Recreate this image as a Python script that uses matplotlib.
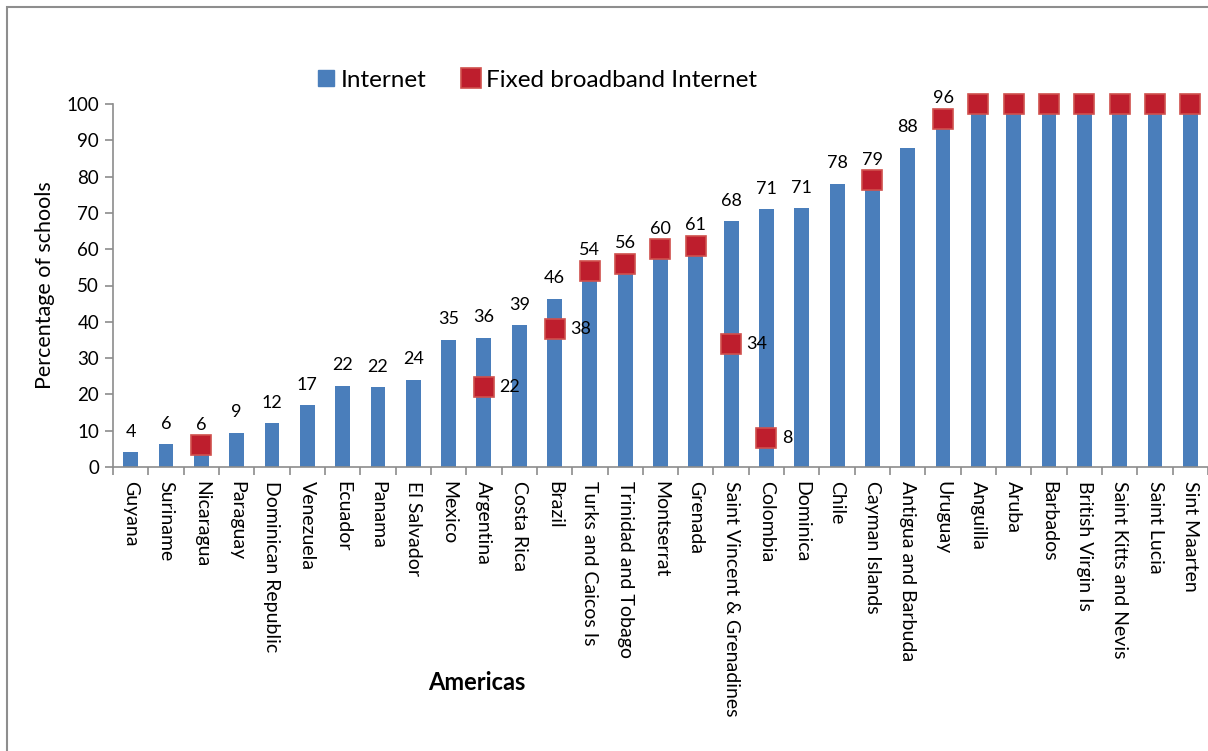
import matplotlib
matplotlib.use("Agg")
from matplotlib import pyplot as plt
from matplotlib.lines import Line2D
from matplotlib.patches import Rectangle
import numpy as np

plt.rcParams['font.family'] = ['Lato', 'DejaVu Sans']

# share of schools with internet / fixed broadband, by country
countries = ['Guyana', 'Suriname', 'Nicaragua', 'Paraguay', 'Dominican Republic',
             'Venezuela', 'Ecuador', 'Panama', 'El Salvador', 'Mexico', 'Argentina',
             'Costa Rica', 'Brazil', 'Turks and Caicos Is', 'Trinidad and Tobago',
             'Montserrat', 'Grenada', 'Saint Vincent & Grenadines', 'Colombia',
             'Dominica', 'Chile', 'Cayman Islands', 'Antigua and Barbuda', 'Uruguay',
             'Anguilla', 'Aruba', 'Barbados', 'British Virgin Is', 'Saint Kitts and Nevis',
             'Saint Lucia', 'Sint Maarten']
internet = [4, 6.3, 6, 9.4, 12, 17, 22.4, 22, 24, 35, 35.6, 39, 46.3, 54, 56, 60, 61,
            67.7, 71, 71.3, 78, 79, 88, 96, 100, 100, 100, 100, 100, 100, 100]
nan = np.nan
broadband = [nan, nan, 6, nan, nan, nan, nan, nan, nan, nan, 22, nan, 38, 54, 56, 60, 61,
             34, 8, nan, nan, 79, nan, 96, 100, 100, 100, 100, 100, 100, 100]
# broadband values that get their own label beside the marker
side_labels = {'Argentina', 'Brazil', 'Saint Vincent & Grenadines', 'Colombia'}

blue = '#4A7EBB'
red = '#BE1E2D'
red_edge = '#D0504D'
grey = '#8C8C8C'

fig = plt.figure(figsize=(12.08, 7.51), dpi=100)
ax = fig.add_axes([113 / 1208, 1 - 467 / 751, 1 - 113 / 1208, (467 - 104) / 751])

x = np.arange(len(countries))
ax.bar(x, internet, width=0.42, color=blue, zorder=2)
ax.plot(x, broadband, linestyle='none', marker='s', markersize=14.5,
        markerfacecolor=red, markeredgecolor=red_edge, markeredgewidth=1.2,
        zorder=3, clip_on=False)

# value labels
for i, v in enumerate(internet):
    if round(v) < 100:
        ax.annotate(f'{round(v)}', (i, v), xytext=(0, 9), textcoords='offset points',
                    ha='center', va='bottom', fontsize=13)
for i, (c, b) in enumerate(zip(countries, broadband)):
    if c in side_labels:
        ax.annotate(f'{round(b)}', (i, b), xytext=(11, 0), textcoords='offset points',
                    ha='left', va='center', fontsize=13)

ax.set_xlim(-0.5, len(countries) - 0.5)
ax.set_ylim(0, 100)
ax.set_yticks(range(0, 101, 10))
ax.set_xticks(x)
ax.set_xticklabels(countries, rotation=-90, fontsize=14)
ax.set_xticks(np.arange(-0.5, len(countries)), minor=True)
ax.tick_params(axis='x', which='major', length=0, pad=10)
ax.tick_params(axis='x', which='minor', length=6, color=grey, width=1.2)
ax.tick_params(axis='y', length=6, color=grey, width=1.2, labelsize=13.5, pad=4)

for side in ['top', 'right']:
    ax.spines[side].set_visible(False)
for side in ['left', 'bottom']:
    ax.spines[side].set_color(grey)
    ax.spines[side].set_linewidth(1.2)

ax.set_ylabel('Percentage of schools', fontsize=15.5, labelpad=8)
fig.text(477 / 1208, 1 - 683 / 751, 'Americas', ha='center', va='center',
         fontsize=17, fontweight='bold')

handles = [
    Line2D([], [], linestyle='none', marker='s', markersize=11,
           markerfacecolor=blue, markeredgecolor=blue),
    Line2D([], [], linestyle='none', marker='s', markersize=14,
           markerfacecolor=red, markeredgecolor=red_edge, markeredgewidth=1.2),
]
fig.legend(handles, ['Internet', 'Fixed broadband Internet'], loc='center',
           bbox_to_anchor=(536 / 1208, 1 - 80 / 751), ncol=2, frameon=False,
           fontsize=17.5, handletextpad=0.15, columnspacing=1.4, handlelength=0.9)

# outer chart frame
fig.patches.append(Rectangle((7 / 1208, -0.05), 1.1, 1.05 - 7 / 751,
                             transform=fig.transFigure, fill=False,
                             edgecolor='#8E8E8E', linewidth=1.5))

fig.savefig('out.png', dpi=100)
